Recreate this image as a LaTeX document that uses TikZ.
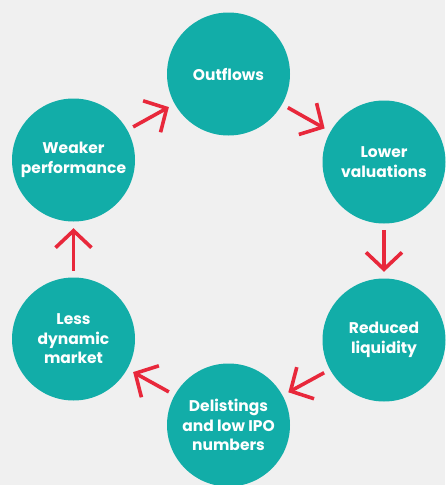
\documentclass[tikz,border=0pt]{standalone}
\usepackage{fontspec}
\setmainfont{Poppins}
\usetikzlibrary{arrows.meta}
\definecolor{bgcol}{HTML}{F0F0F0}
\definecolor{tealcol}{HTML}{12ADA8}
\definecolor{redcol}{HTML}{E8283B}
\begin{document}
\begin{tikzpicture}[x=1pt,y=-1pt,
  stage/.style={circle, fill=tealcol, minimum size=123pt, inner sep=0pt,
    text=white, font=\bfseries\fontsize{15.5}{19.5}\selectfont, align=center},
  flow/.style={draw=redcol, line width=3.6pt,
    -{Straight Barb[length=17pt,width=36pt,line join=miter]},
    shorten <=6.5pt, shorten >=6.5pt}]
  % background and page size
  \fill[bgcol] (0,0) rectangle (445,485);
  \useasboundingbox (0,0) rectangle (445,485);

  % the six stages of the cycle
  \node[stage] (out)  at (228.5,74)  {Outflows};
  \node[stage] (low)  at (384,162)   {Lower\\valuations};
  \node[stage] (red)  at (384,340)   {Reduced\\liquidity};
  \node[stage] (del)  at (228.5,425) {Delistings\\and low IPO\\numbers};
  \node[stage] (less) at (73.5,339)  {Less\\dynamic\\market};
  \node[stage] (weak) at (73.5,160)  {Weaker\\performance};

  % arrows between consecutive stages
  \draw[flow] (weak) -- (out);
  \draw[flow] (out) -- (low);
  \draw[flow] (low) -- (red);
  \draw[flow] (red) -- (del);
  \draw[flow] (del) -- (less);
  \draw[flow] (less) -- (weak);
\end{tikzpicture}
\end{document}
